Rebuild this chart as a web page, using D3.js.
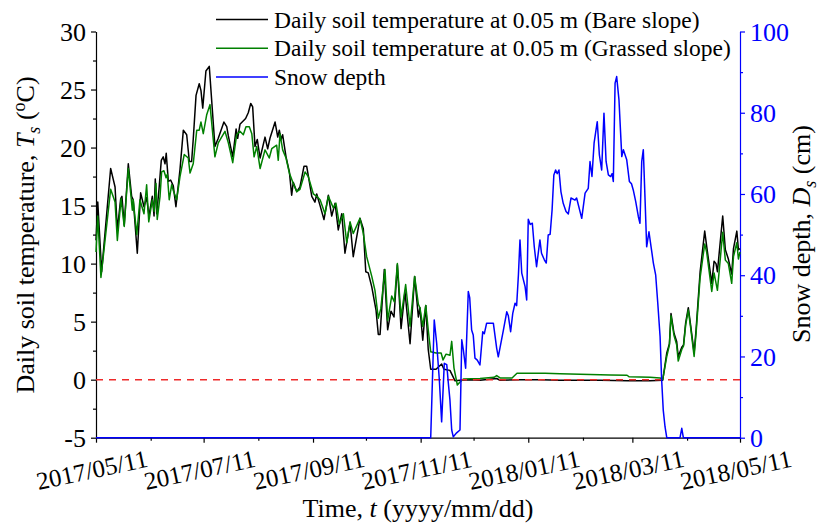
<!DOCTYPE html>
<html><head><meta charset="utf-8">
<script src="https://cdn.jsdelivr.net/npm/d3@7"></script>
<style>
body{margin:0;background:#fff;}
svg{display:block;}
</style></head>
<body><svg id="c" width="819" height="525" font-family="Liberation Serif, Times New Roman, serif"></svg>
<script>
// Day offsets are days since 2017/05/11
const startDateStr = "2017-05-11";
const endDateStr = "2018-05-11";

const bareDay = [0,1,3.2,8.3,10.8,12.1,14.0,14.7,16.0,18.3,20.2,21.1,23.4,25.3,27.2,28.7,30.0,31.9,32.9,33.6,34.4,35.7,37.0,38.1,39.1,39.8,41.0,42.3,43.8,45.3,47.6,49.5,51.4,52.9,54.2,55.1,56.7,58.5,59.5,60.5,62.3,64.2,67.4,69.3,72.5,74.1,75.0,77.5,79.4,80.3,81.6,84.8,86.3,87.7,88.8,90.1,91.4,93.0,95.8,97.3,98.6,101.5,103.0,103.9,104.9,105.8,107.7,109.6,110.9,111.8,113.8,115.6,117.9,119.4,122.3,124.1,125.1,127.0,129.2,131.7,133.6,135.5,137.3,139.3,141.1,144.0,145.8,149.6,151.5,152.9,154.3,156.3,158.7,160.0,161.0,163.4,165.3,167.2,168.9,170.8,172.9,175.1,178.0,180.6,182.7,183.6,185.2,186.9,188.3,189.7,192.7,195.9,197.2,200.6,203.5,206.3,212.0,217.6,227.1,229.0,240.3,251.7,263.0,285.7,301.5,314.0,321.2,323.5,325.0,325.9,327.6,329.1,330.0,332.0,333.0,334.2,335.7,337.1,339.0,340.1,342.4,345.0,346.1,349.0,350.3,351.4,352.2,355.2,356.7,358.4,360.3,361.3,363.2,364.1,365.0];
const bareT = [12.0,15.3,9.3,18.2,16.6,12.9,15.6,15.8,13.3,18.6,15.8,15.5,10.9,16.1,14.9,15.7,14.1,15.8,14.1,17.3,14.3,16.4,18.9,19.2,18.6,19.5,17.1,17.2,16.7,14.9,18.1,21.5,21.1,18.8,18.8,20.7,24.5,25.5,24.9,23.4,26.6,27.0,20.1,20.8,22.2,21.8,21.0,19.2,21.6,20.8,22.0,22.5,23.0,23.8,23.5,20.1,20.7,19.1,20.9,19.9,20.8,22.2,20.9,21.5,20.7,21.1,19.2,17.9,15.9,17.0,16.2,16.6,18.4,18.4,15.8,15.3,16.0,15.0,13.8,15.9,14.1,15.2,12.9,14.3,10.9,13.5,10.6,13.9,13.0,9.3,9.2,8.0,6.0,3.9,3.9,9.5,4.3,5.9,5.4,9.9,4.4,7.6,3.1,8.9,5.4,6.2,3.4,6.4,2.6,0.9,0.9,1.35,0.9,0.8,-0.1,-0.05,0.0,-0.05,0.1,-0.05,0.0,0.0,-0.05,-0.05,-0.1,-0.1,-0.05,2.3,3.1,5.7,4.0,3.3,2.0,2.8,3.0,4.9,6.2,4.6,2.3,4.3,9.3,12.8,11.5,8.3,10.2,10.0,9.3,14.1,11.2,10.4,9.1,11.3,12.8,11.2,11.3];

const grassDay = [0,1,2.8,8.3,10.8,12.1,14.2,16.0,18.3,20.6,21.1,23.1,24.9,27.2,28.7,29.9,31.9,33.0,34.0,34.7,36.3,37.2,38.5,39.7,40.4,41.5,42.9,43.8,45.7,47.6,50.0,52.3,53.3,55.1,57.1,58.5,59.5,60.8,62.7,64.6,67.4,69.3,73.1,75.0,77.5,79.7,81.6,83.5,85.0,86.9,88.3,89.6,91.1,93.0,95.8,98.2,99.6,102.4,103.3,104.3,105.8,107.7,109.6,111.8,113.8,115.6,118.5,120.3,123.2,125.1,127.0,129.8,131.7,134.5,136.0,137.9,140.2,142.1,144.0,145.8,149.6,151.5,153.4,156.3,158.1,160.0,161.4,163.8,165.3,167.6,169.1,170.8,172.9,175.5,178.0,180.6,182.7,183.6,185.2,186.9,188.3,189.7,192.7,195.6,196.7,198.4,200.6,201.6,202.9,204.8,206.3,208.2,217.6,225.6,227.1,229.0,235.8,238.6,246.0,254.5,263.0,280.0,291.4,301.0,302.2,314.0,319.7,321.2,323.5,325.0,325.9,327.6,329.1,330.0,332.0,333.0,334.2,335.7,337.1,339.0,340.1,342.4,345.0,346.1,349.0,350.3,352.2,355.2,356.7,358.4,360.3,361.3,363.2,364.1,365.0];
const grassT = [11.0,14.1,8.8,16.4,15.3,12.0,15.6,13.2,18.2,14.6,15.5,12.5,15.5,14.3,16.8,13.6,15.5,14.5,16.9,13.8,15.8,17.9,18.0,17.4,17.7,15.5,16.8,16.3,15.5,17.5,19.4,19.1,17.8,18.6,21.5,21.5,22.2,21.2,22.8,23.7,19.2,20.4,21.4,20.4,18.7,21.1,21.4,21.1,21.8,21.8,21.2,19.2,20.1,18.2,19.8,19.1,19.9,20.2,18.9,21.2,19.8,19.1,17.8,16.9,16.2,16.4,17.9,17.5,16.0,15.8,15.5,14.3,15.8,14.8,15.2,13.4,14.3,11.8,13.6,12.6,13.9,12.6,10.6,8.9,7.7,5.3,6.1,9.5,5.1,7.2,6.7,10.0,5.4,8.2,4.6,8.9,6.5,6.2,4.6,6.4,4.3,2.4,2.3,2.3,1.7,2.2,2.1,3.3,1.0,-0.46,-0.2,0.05,0.1,0.2,0.35,0.15,0.15,0.55,0.55,0.55,0.5,0.45,0.4,0.38,0.25,0.2,0.15,0.0,2.0,3.0,5.5,3.8,3.0,1.6,2.6,2.9,4.7,6.0,4.4,2.0,4.0,8.8,11.7,11.0,7.6,9.2,7.7,12.7,10.3,10.0,8.3,10.6,11.8,10.4,11.0];

const snowDay = [0,189.7,191.7,193.1,194.6,195.9,197.4,198.8,199.7,200.6,201.6,202.5,204.4,206.3,207.3,208.2,209.5,211.0,211.8,212.9,213.8,214.8,216.1,217.6,219.2,220.1,221.4,225.2,227.1,228.0,229.0,230.9,232.8,233.7,235.0,236.2,237.5,238.4,239.4,240.3,241.3,243.2,244.1,245.0,246.1,247.3,248.4,249.7,251.6,252.5,254.1,255.2,256.3,257.4,258.5,259.5,260.5,261.4,262.4,263.5,264.8,266.4,267.7,269.2,271.5,272.4,275.3,277.2,279.0,280.0,281.1,282.3,283.4,284.1,285.3,286.6,287.9,289.1,290.4,291.7,292.5,293.2,294.2,295.1,296.4,298.0,298.9,300.8,302.3,303.5,304.5,305.9,307.4,308.3,309.3,310.2,311.2,312.1,313.4,314.6,315.9,317.2,318.4,319.7,320.6,321.5,322.5,323.5,331.0,332.0,332.9,365.0];
const snowD = [0,0,29.0,23.2,14.2,3.9,18.3,18.0,13.4,9.3,1.9,0.2,1.2,1.9,24.1,21.6,17.1,36.0,34.5,26.5,25.3,19.6,19.1,17.9,26.1,25.6,28.2,28.2,22.0,19.9,22.2,26.5,31.0,30.0,26.1,30.6,33.1,32.5,40.0,48.7,40.5,37.2,33.9,53.8,52.5,52.8,47.0,42.1,48.7,45.4,43.8,43.0,49.9,50.1,56.1,64.7,65.9,65.0,65.9,60.6,57.7,55.7,55.1,59.0,58.5,59.0,54.0,60.2,61.4,68.0,64.3,72.5,75.8,77.8,69.6,65.9,79.9,68.0,64.7,64.3,65.0,63.1,87.3,88.9,83.2,69.2,70.9,68.4,63.1,62.5,61.0,58.1,54.4,52.8,68.0,70.9,58.5,47.0,50.7,47.0,43.0,40.1,33.1,24.9,14.2,6.8,2.7,0,0,2.3,0,0];

const tempTicks = [-5,0,5,10,15,20,25,30];
const tempMinor = [-2.5,2.5,7.5,12.5,17.5,22.5,27.5];
const snowTicks = [0,20,40,60,80,100];
const snowMinor = [10,30,50,70,90];
const dateTicks = ["2017-05-11","2017-07-11","2017-09-11","2017-11-11","2018-01-11","2018-03-11","2018-05-11"];
const dateMinor = ["2017-06-11","2017-08-11","2017-10-11","2017-12-11","2018-02-11","2018-04-11"];
const legendLabels = ["Daily soil temperature at 0.05 m (Bare slope)","Daily soil temperature at 0.05 m (Grassed slope)","Snow depth"];

const FONT = "Liberation Serif, Times New Roman, serif";
const svg = d3.select("#c");
const L=96, R=740, T=31.5, B=437.7;
const t0 = new Date(startDateStr+"T00:00:00Z"), t1 = new Date(endDateStr+"T00:00:00Z");
const toDate = d => new Date(t0.getTime()+d*864e5);
const parseD = s => new Date(s+"T00:00:00Z");
const x = d3.scaleUtc().domain([t0,t1]).range([L,R]);
const yT = d3.scaleLinear().domain([-5,30]).range([B,T]);
const yS = d3.scaleLinear().domain([0,100]).range([B,T]);
const tickFs = 26, xFs = 25, legFs = 23.5, titleFs = 26;
const fmt = d3.utcFormat("%Y/%m/%d");

// Axes (lines + ticks from d3 axes; labels drawn from the same scales)
svg.append("g").attr("transform",`translate(0,${B})`)
  .call(d3.axisBottom(x).tickValues(dateTicks.map(parseD)).tickFormat("").tickSize(5).tickSizeOuter(0));
svg.append("g").attr("transform",`translate(0,${B})`)
  .call(d3.axisBottom(x).tickValues(dateMinor.map(parseD)).tickFormat("").tickSize(3).tickSizeOuter(0))
  .select(".domain").remove();
svg.append("g").attr("transform",`translate(${L},0)`)
  .call(d3.axisLeft(yT).tickValues(tempTicks).tickFormat("").tickSize(5).tickSizeOuter(0));
svg.append("g").attr("transform",`translate(${L},0)`)
  .call(d3.axisLeft(yT).tickValues(tempMinor).tickFormat("").tickSize(3).tickSizeOuter(0)).select(".domain").remove();
const ra = svg.append("g").attr("transform",`translate(${R},0)`)
  .call(d3.axisRight(yS).tickValues(snowTicks).tickFormat("").tickSize(5).tickSizeOuter(0));
ra.selectAll("line,path").attr("stroke","#0000ff");
const rm = svg.append("g").attr("transform",`translate(${R},0)`)
  .call(d3.axisRight(yS).tickValues(snowMinor).tickFormat("").tickSize(3).tickSizeOuter(0));
rm.select(".domain").remove(); rm.selectAll("line").attr("stroke","#0000ff");
svg.selectAll(".domain,.tick line").attr("stroke-width",1.2);

// tick labels
const labels = svg.append("g").attr("font-family",FONT);
labels.selectAll(".xl").data(dateTicks).join("text")
  .attr("transform",d=>`translate(${x(parseD(d))-4},${B+32}) rotate(-12)`)
  .attr("text-anchor","middle").attr("dy","0.35em").attr("font-size",xFs).attr("fill","#000")
  .text(d=>fmt(parseD(d)));
labels.selectAll(".yl").data(tempTicks).join("text")
  .attr("x",L-10).attr("y",d=>yT(d)).attr("dy","0.35em").attr("text-anchor","end")
  .attr("font-size",tickFs).attr("fill","#000").text(d=>String(d));
labels.selectAll(".sl").data(snowTicks).join("text")
  .attr("x",R+10).attr("y",d=>yS(d)).attr("dy","0.35em").attr("text-anchor","start")
  .attr("font-size",tickFs).attr("fill","#0000ff").text(d=>String(d));

// lines
const lineT = (days,vals)=> d3.line().x((d,i)=>x(toDate(days[i]))).y((d,i)=>yT(vals[i]))(vals);
const lineS = d3.line().x((d,i)=>x(toDate(snowDay[i]))).y((d,i)=>yS(snowD[i]))(snowD);
svg.append("path").attr("d",lineT(bareDay,bareT)).attr("fill","none").attr("stroke","#000").attr("stroke-width",1.5).attr("stroke-linejoin","round");
svg.append("path").attr("d",lineT(grassDay,grassT)).attr("fill","none").attr("stroke","#008000").attr("stroke-width",1.5).attr("stroke-linejoin","round");
svg.append("line").attr("x1",L).attr("x2",R).attr("y1",yT(0)).attr("y2",yT(0))
  .attr("stroke","#ee2a2a").attr("stroke-width",1.5).attr("stroke-dasharray","7,6");
svg.append("path").attr("d",lineS).attr("fill","none").attr("stroke","#0000ff").attr("stroke-width",1.5).attr("stroke-linejoin","round");

// legend
const legColors = ["#000","#008000","#0000ff"];
legendLabels.forEach((lab,i)=>{
  const yy = 19.5 + i*28.8;
  svg.append("line").attr("x1",216).attr("x2",268).attr("y1",yy).attr("y2",yy).attr("stroke",legColors[i]).attr("stroke-width",1.5);
  svg.append("text").attr("x",274).attr("y",yy+8).attr("font-family",FONT).attr("font-size",legFs).text(lab);
});

// axis titles
const subFs = Math.round(titleFs*0.68);
const lt = svg.append("text").attr("transform",`translate(34,235) rotate(-90)`).attr("text-anchor","middle").attr("font-family",FONT).attr("font-size",titleFs);
lt.append("tspan").text("Daily soil temperature, ");
lt.append("tspan").attr("font-style","italic").text("T");
lt.append("tspan").attr("font-style","italic").attr("font-size",subFs).attr("dy",6).text("s");
lt.append("tspan").attr("dy",-6).text(" (");
lt.append("tspan").attr("font-size",subFs).attr("dy",-9).text("o");
lt.append("tspan").attr("dy",9).text("C)");

const rt = svg.append("text").attr("transform",`translate(810,234) rotate(-90)`).attr("text-anchor","middle").attr("font-family",FONT).attr("font-size",titleFs);
rt.append("tspan").text("Snow depth, ");
rt.append("tspan").attr("font-style","italic").text("D");
rt.append("tspan").attr("font-style","italic").attr("font-size",subFs).attr("dy",6).text("s");
rt.append("tspan").attr("dy",-6).text(" (cm)");

const bt = svg.append("text").attr("x",(L+R)/2).attr("y",517).attr("text-anchor","middle").attr("font-family",FONT).attr("font-size",titleFs);
bt.append("tspan").text("Time, ");
bt.append("tspan").attr("font-style","italic").text("t");
bt.append("tspan").text(" (yyyy/mm/dd)");
</script></body></html>
